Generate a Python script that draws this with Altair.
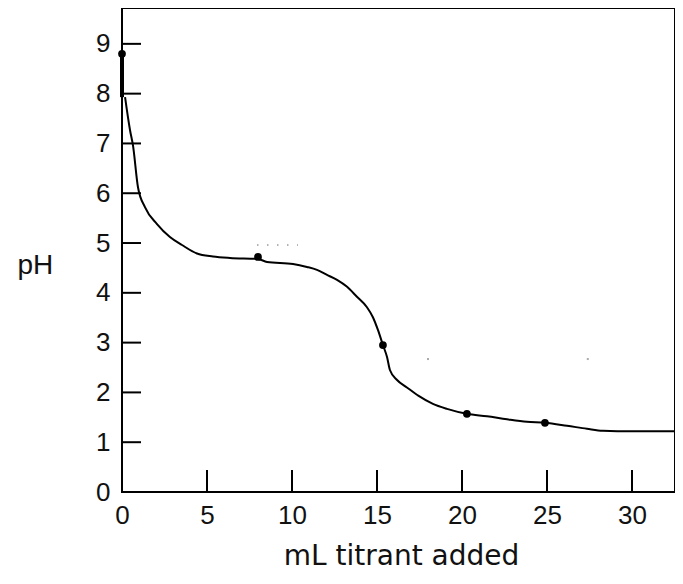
import altair as alt
import pandas as pd

# Titration curve
curve_ml = [0.18, 0.47, 0.65, 0.94, 1.35, 2.06, 2.82, 3.53, 4.41, 5.35, 6.35, 8.0, 8.53,
            10.06, 10.88, 11.47, 12.06, 12.65, 13.24, 13.82, 14.41, 14.76, 15.06, 15.35,
            15.59, 15.76, 16.18, 16.76, 17.45, 18.29, 19.12, 20.29, 21.47, 22.65, 23.82,
            24.88, 26.18, 27.35, 28.29, 30.0, 32.5]
curve_ph = [7.93, 7.27, 6.95, 6.12, 5.72, 5.38, 5.12, 4.96, 4.79, 4.73, 4.70, 4.68, 4.62,
            4.58, 4.52, 4.46, 4.36, 4.26, 4.12, 3.92, 3.71, 3.51, 3.25, 2.95,
            2.71, 2.45, 2.25, 2.10, 1.93, 1.77, 1.67, 1.57, 1.52, 1.46, 1.41,
            1.39, 1.33, 1.27, 1.23, 1.22, 1.22]

# initial steep drop drawn on the axis
start_ml = [0.0]
start_ph_top = [8.8]
start_ph_bottom = [7.93]

# marked points
dot_ml = [0.0, 8.0, 15.35, 20.29, 24.88]
dot_ph = [8.8, 4.72, 2.95, 1.57, 1.39]

# faint dotted guide and specks
guide_ml_from = [7.94]
guide_ml_to = [10.35]
guide_ph = [4.96]
speck_ml = [18.0, 27.4]
speck_ph = [2.67, 2.67]

x_ticks = [0, 5, 10, 15, 20, 25, 30]
y_ticks = [0, 1, 2, 3, 4, 5, 6, 7, 8, 9]
x_inner_ticks = [5, 10, 15, 20, 25, 30]
y_inner_ticks = [1, 2, 3, 4, 5, 6, 7, 8, 9]

X_MAX = 32.53
Y_MAX = 9.72

curve_df = pd.DataFrame({"ml": curve_ml, "ph": curve_ph})
start_df = pd.DataFrame({"ml": start_ml, "top": start_ph_top, "bottom": start_ph_bottom})
dot_df = pd.DataFrame({"ml": dot_ml, "ph": dot_ph})
guide_df = pd.DataFrame({"a": guide_ml_from, "b": guide_ml_to, "ph": guide_ph})
speck_df = pd.DataFrame({"ml": speck_ml, "ph": speck_ph})
xt_df = pd.DataFrame({"ml": x_inner_ticks})
yt_df = pd.DataFrame({"ph": y_inner_ticks})

xs = alt.Scale(domain=[0, X_MAX], nice=False, zero=False)
ys = alt.Scale(domain=[0, Y_MAX], nice=False, zero=False)

axis_x = alt.Axis(
    values=x_ticks, ticks=False, tickSize=0, domain=False, grid=False,
    labelFont="Liberation Sans", labelFontSize=26, labelColor="#111",
    labelPadding=10, labelFlush=False, labelOverlap=False,
    title="mL titrant added", titleFont="DejaVu Sans", titleFontSize=28,
    titleFontWeight="normal", titleColor="#111", titleX=279, titleY=72,
    titleAlign="center", titleBaseline="alphabetic",
)
axis_y = alt.Axis(
    values=y_ticks, ticks=False, tickSize=0, domain=False, grid=False,
    labelFont="Liberation Sans", labelFontSize=26, labelColor="#111",
    labelPadding=12, labelOverlap=False,
    title="pH", titleFont="Liberation Sans", titleFontSize=28,
    titleFontWeight="normal", titleColor="#111", titleAngle=0,
    titleX=-105, titleY=265, titleAlign="left", titleBaseline="alphabetic",
)

line = alt.Chart(curve_df).mark_line(
    color="black", strokeWidth=2, interpolate="monotone", clip=True
).encode(
    x=alt.X("ml:Q", scale=xs, axis=axis_x),
    y=alt.Y("ph:Q", scale=ys, axis=axis_y),
)

start = alt.Chart(start_df).mark_rule(color="black", strokeWidth=4).encode(
    x=alt.X("ml:Q", scale=xs, axis=axis_x),
    y=alt.Y("top:Q", scale=ys, axis=axis_y),
    y2="bottom:Q",
)

dots = alt.Chart(dot_df).mark_point(
    filled=True, color="black", size=60, opacity=1, shape="circle"
).encode(
    x=alt.X("ml:Q", scale=xs, axis=axis_x),
    y=alt.Y("ph:Q", scale=ys, axis=axis_y),
)

ytick_rules = alt.Chart(yt_df).mark_rule(color="black", strokeWidth=2).encode(
    y=alt.Y("ph:Q", scale=ys, axis=axis_y),
    x=alt.value(0),
    x2=alt.value(19),
)

xtick_rules = alt.Chart(xt_df).mark_rule(color="black", strokeWidth=2).encode(
    x=alt.X("ml:Q", scale=xs, axis=axis_x),
    y=alt.value(484),
    y2=alt.value(462),
)

guide = alt.Chart(guide_df).mark_rule(
    color="#999", strokeWidth=1.5, strokeDash=[1.5, 8.5]
).encode(
    x=alt.X("a:Q", scale=xs, axis=axis_x),
    x2="b:Q",
    y=alt.Y("ph:Q", scale=ys, axis=axis_y),
)

specks = alt.Chart(speck_df).mark_point(
    filled=True, color="#aaa", size=4, opacity=1, shape="square"
).encode(
    x=alt.X("ml:Q", scale=xs, axis=axis_x),
    y=alt.Y("ph:Q", scale=ys, axis=axis_y),
)

chart = alt.layer(
    guide, specks, ytick_rules, xtick_rules, line, start, dots
).properties(
    width=553,
    height=484,
    autosize=alt.AutoSizeParams(type="none"),
    padding={"left": 114, "top": 0, "right": 0, "bottom": 80},
    background="white",
).configure_view(
    stroke="black", strokeWidth=2
)

chart.save("out.html", embed_options={"renderer": "svg", "actions": False})
